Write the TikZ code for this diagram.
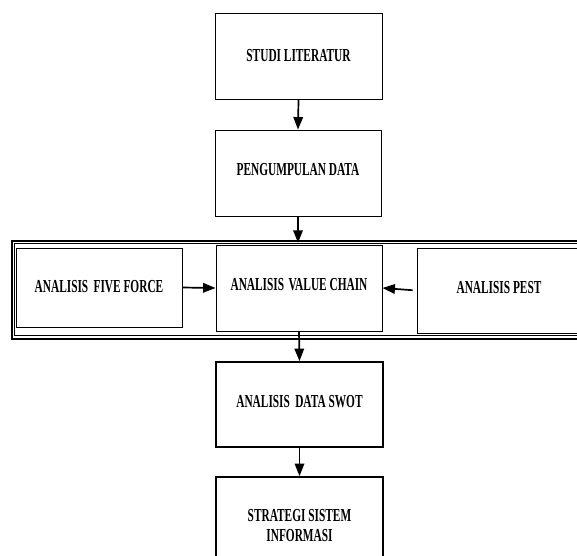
\documentclass[tikz,border=0pt]{standalone}
\usepackage{fontspec}
\setmainfont[FakeStretch=0.62]{Liberation Serif}
\usetikzlibrary{arrows.meta}
\begin{document}
\begin{tikzpicture}[x=1pt,y=-1pt,
  box/.style={draw=black, line width=0.9pt, rectangle, inner sep=0pt, align=center,
    font=\bfseries\fontsize{18.3}{20}\selectfont},
  thickbox/.style={box, line width=1.8pt},
  up/.style={text depth=7pt},
  arr/.style={line width=1.7pt, -{Triangle[length=12.5pt,width=9.5pt]}}
]
\useasboundingbox (0,0) rectangle (577,555);
\clip (0,0) rectangle (577,555);
\fill[white] (0,0) rectangle (577,555);

% frame
\node[draw=black, line width=2pt, minimum width=600pt, minimum height=98pt, anchor=north west, inner sep=0pt] (frameout) at (10.5,240) {};
\node[draw=black, line width=0.9pt, minimum width=600pt, minimum height=92.5pt, anchor=north west, inner sep=0pt] (framein) at (13.5,242.8) {};

\node[box, minimum width=167pt, minimum height=86pt] (studi) at (298.5,56) {STUDI LITERATUR};
\node[box, up, minimum width=166pt, minimum height=86pt] (pd) at (298,173) {PENGUMPULAN DATA};
\node[box, minimum width=166pt, minimum height=79pt, text depth=2pt] (ff) at (99,287.5) {ANALISIS\hspace{2.5pt} FIVE FORCE};
\node[box, up, minimum width=166pt, minimum height=86pt] (vc) at (299,288) {ANALISIS\hspace{1.5pt} VALUE CHAIN};
\node[box, up, minimum width=164pt, minimum height=85pt] (pest) at (499,290.5) {ANALISIS PEST};
\node[thickbox, up, minimum width=167pt, minimum height=85pt] (swot) at (299.5,404.5) {ANALISIS\hspace{2.5pt} DATA SWOT};
\node[thickbox, minimum width=167pt, minimum height=98pt] (strat) at (299.5,526) {STRATEGI SISTEM\\INFORMASI};

\draw[arr] (studi.south) -- (pd.north);
\draw[arr] (pd.south) -- (pd.south |- framein.north);
\draw[arr] (ff.east) -- (vc.west);
\draw[arr, shorten <=4pt] (pest.west) -- (vc.east);
\draw[arr] (vc.south) -- (swot.north);
\draw[arr] (swot.south) -- (strat.north);
\end{tikzpicture}
\end{document}
